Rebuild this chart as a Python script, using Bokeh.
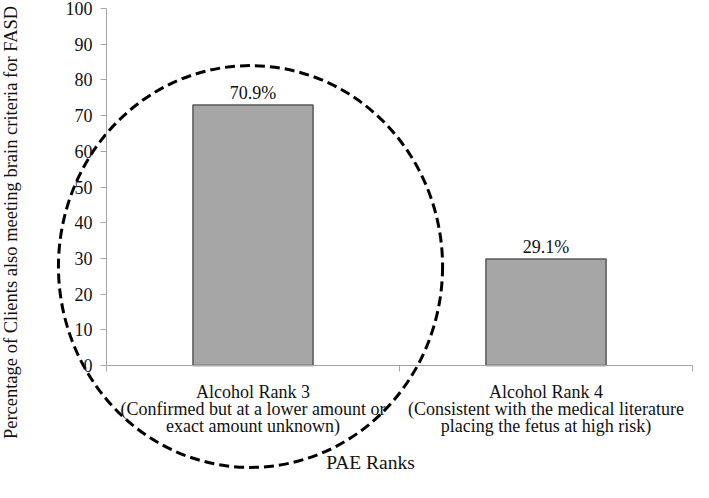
import numpy as np
from bokeh.plotting import figure
from bokeh.models import Range1d, FixedTicker, ColumnDataSource, Label
from bokeh.core.properties import value
from bokeh.embed import file_html
from bokeh.resources import INLINE

# ---- data ----
categories = [
    "Alcohol Rank 3\n(Confirmed but at a lower amount or\nexact amount unknown)",
    "Alcohol Rank 4\n(Consistent with the medical literature\nplacing the fetus at high risk)",
]
values = [73.0, 29.8]
bar_labels = ["70.9%", "29.1%"]
y_ticks = list(range(0, 101, 10))
x_title = "PAE Ranks"
y_title = "Percentage of Clients also meeting brain criteria for FASD"

positions = [i + 0.5 for i in range(len(categories))]
boundaries = list(range(len(categories) + 1))

FONT = "Liberation Serif"
AXIS_GRAY = "#a6a6a6"
TXT = "#111111"

# The plotting frame spans the whole canvas so the dashed highlight ellipse can
# extend past the axes; the axes are pinned at x=0 / y=0 with fixed_location.
p = figure(width=693, height=482,
           x_range=Range1d(-0.3618, 2.0034), y_range=Range1d(-32.77, 102.24),
           output_backend="svg", toolbar_location=None,
           min_border=0, min_border_left=0, min_border_right=0,
           min_border_top=0, min_border_bottom=0)
p.outline_line_color = None
p.xgrid.visible = False
p.ygrid.visible = False

src = ColumnDataSource(dict(x=positions, top=values, label=bar_labels))
p.vbar(x="x", top="top", bottom=0, width=0.41, source=src,
       fill_color="#a6a6a6", line_color="#595959", line_width=1.5)
p.text(x="x", y="top", text="label", source=src, text_align="center",
       text_baseline="bottom", y_offset=-2, text_font=value(FONT),
       text_font_size="18px", text_color=TXT)

# x axis
xa = p.xaxis[0]
xa.fixed_location = 0
xa.bounds = (boundaries[0], boundaries[-1])
xa.ticker = FixedTicker(ticks=positions, minor_ticks=boundaries)
xa.major_label_overrides = {pos: cat for pos, cat in zip(positions, categories)}
xa.major_tick_out = 0
xa.major_tick_in = 0
xa.major_tick_line_color = None
xa.minor_tick_out = 6
xa.minor_tick_in = 0
xa.minor_tick_line_color = AXIS_GRAY
xa.axis_line_color = AXIS_GRAY
xa.major_label_standoff = 10
xa.major_label_text_font = FONT
xa.major_label_text_font_size = "18px"
xa.major_label_text_color = TXT
xa.major_label_text_line_height = 0.85

# y axis
ya = p.yaxis[0]
ya.fixed_location = 0
ya.bounds = (0, 100)
ya.ticker = FixedTicker(ticks=y_ticks)
ya.major_tick_out = 6
ya.major_tick_in = 0
ya.minor_tick_line_color = None
ya.major_tick_line_color = AXIS_GRAY
ya.axis_line_color = AXIS_GRAY
ya.major_label_standoff = 8
ya.major_label_text_font = FONT
ya.major_label_text_font_size = "18px"
ya.major_label_text_color = TXT

# axis titles
p.add_layout(Label(x=-0.3276, y=40.06, text=y_title, angle=np.pi / 2,
                   text_align="center", text_baseline="middle",
                   text_font=FONT, text_font_size="18.5px", text_color=TXT))
p.add_layout(Label(x=0.901, y=-27.17, text=x_title,
                   text_align="center", text_baseline="middle",
                   text_font=FONT, text_font_size="19.5px", text_color=TXT))

# dashed highlight ellipse around the first category
p.ellipse(x=[0.4915], y=[27.73], width=[1.311], height=[112.6],
          fill_color=None, line_color="black", line_width=3, line_dash="10 5")

open("out.html", "w").write(file_html(p, INLINE))
